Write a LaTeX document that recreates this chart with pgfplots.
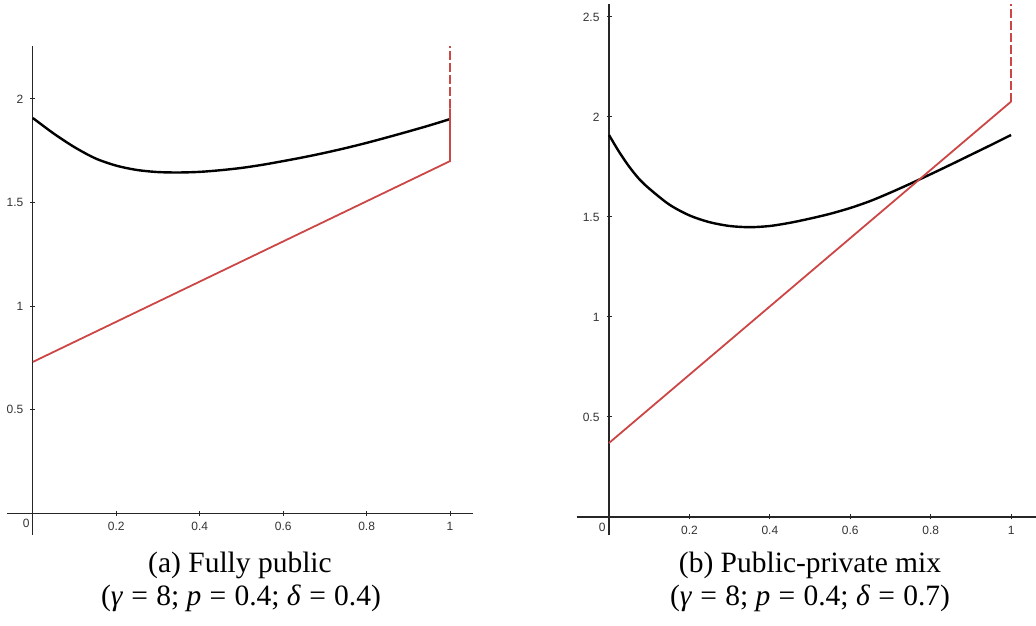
\documentclass[border=0pt]{standalone}
\usepackage{fontspec}
\setmainfont{Liberation Serif}
\newfontfamily\tickfont{Liberation Sans}
\usepackage{pgfplots}
\pgfplotsset{compat=1.18}
\definecolor{gred}{RGB}{204,70,70}
\newcommand{\eq}{\hspace{0.28em}=\hspace{0.28em}}

\pgfplotsset{
  gg/.style={
    axis lines=middle, scale only axis, anchor=south west,
    axis line style={-, black!85, line width=0.55pt},
    every inner x axis line/.append style={-},
    every inner y axis line/.append style={-},
    tick style={black!85, line width=0.5pt},
    major tick length=2.5pt, tick align=center,
    ticklabel style={font=\tickfont\fontsize{6}{7}\selectfont, text=black!80},
    /pgf/number format/assume math mode=true,
    xtick={0.2,0.4,0.6,0.8,1},
    clip=false,
  },
  blk/.style={black, line width=1.2pt, smooth},
  red/.style={gred, line width=0.9pt},
  reddash/.style={gred, line width=0.9pt, dash pattern=on 4.5pt off 1.5pt},
}

\begin{document}
\begin{tikzpicture}
\path[use as bounding box] (0,0) rectangle (518pt,312.5pt);

% (a) fully public
\begin{axis}[gg,
    at={(3.5pt,45pt)}, width=233pt, height=244.5pt,
    xmin=-0.062, xmax=1.055, ymin=-0.106, ymax=2.256,
    ytick={0.5,1,1.5,2}]
\addplot[blk] coordinates {(0,1.908) (0.05,1.833) (0.1,1.767) (0.15,1.713) (0.2,1.678)
  (0.25,1.657) (0.3,1.647) (0.35,1.645) (0.4,1.648) (0.45,1.656) (0.5,1.667)
  (0.55,1.682) (0.6,1.700) (0.65,1.719) (0.7,1.740) (0.75,1.763) (0.8,1.788)
  (0.85,1.815) (0.9,1.843) (0.95,1.872) (1,1.903)};
\addplot[red] coordinates {(0,0.73) (1,1.70) (1,1.955)};
\addplot[reddash] coordinates {(1,1.955) (1,2.256)};
\node[anchor=north east, inner sep=0pt, font=\tickfont\fontsize{6}{7}\selectfont, text=black!80]
  at (axis cs:0,0) [xshift=-1.5pt, yshift=-3pt] {0};
\end{axis}

% (b) public-private mix
\begin{axis}[gg,
    at={(288.5pt,45pt)}, width=229.5pt, height=265.5pt,
    xmin=-0.0796, xmax=1.062, ymin=-0.09, ymax=2.565,
    ytick={0.5,1,1.5,2,2.5}]
\addplot[blk] coordinates {(0,1.910) (0.025,1.826) (0.05,1.752) (0.075,1.690)
  (0.1,1.642) (0.15,1.562) (0.2,1.508) (0.25,1.474) (0.3,1.455) (0.35,1.449)
  (0.4,1.455) (0.45,1.471) (0.5,1.492) (0.55,1.516) (0.6,1.545) (0.65,1.580)
  (0.7,1.622) (0.75,1.667) (0.8,1.714) (0.85,1.762) (0.9,1.811) (0.95,1.860) (1,1.910)};
\addplot[red] coordinates {(0,0.37) (1,2.077)};
\addplot[reddash] coordinates {(1,2.077) (1,2.565)};
\node[anchor=north east, inner sep=0pt, font=\tickfont\fontsize{6}{7}\selectfont, text=black!80]
  at (axis cs:0,0) [xshift=-1.5pt, yshift=-3pt] {0};
\end{axis}

\begin{scope}[every node/.style={anchor=base, inner sep=0pt, font=\fontsize{14.75}{17}\selectfont}]
\node at (120pt,26pt) {(a) Fully public};
\node at (120.5pt,9.5pt) {(\textit{γ}\eq 8; \textit{p}\eq 0.4; \textit{δ}\eq 0.4)};
\node at (405pt,26pt) {(b) Public-private mix};
\node at (405pt,9.5pt) {(\textit{γ}\eq 8; \textit{p}\eq 0.4; \textit{δ}\eq 0.7)};
\end{scope}
\end{tikzpicture}
\end{document}
